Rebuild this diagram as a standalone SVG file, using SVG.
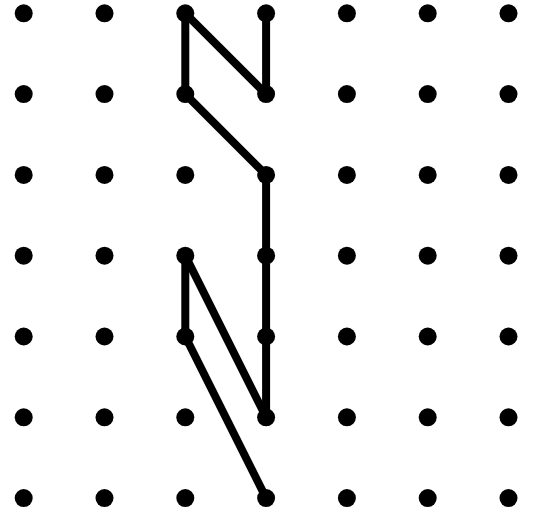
<svg xmlns="http://www.w3.org/2000/svg" width="533" height="515" viewBox="0 0 533 515">
<style>
.d{fill:#000}
.e{stroke:#000;stroke-width:8;fill:none;stroke-linecap:round}
</style>
<rect width="533" height="515" fill="#fff"/>
<g id="connectors" class="e">
<line x1="185.3" y1="13.3" x2="185.3" y2="94.1"/>
<line x1="185.3" y1="13.3" x2="266.1" y2="94.1"/>
<line x1="266.1" y1="13.3" x2="266.1" y2="94.1"/>
<line x1="185.3" y1="94.1" x2="266.1" y2="174.9"/>
<line x1="266.1" y1="174.9" x2="266.1" y2="417.3"/>
<line x1="185.3" y1="255.7" x2="185.3" y2="336.5"/>
<line x1="185.3" y1="255.7" x2="266.1" y2="417.3"/>
<line x1="185.3" y1="336.5" x2="266.1" y2="498.1"/>
</g>
<g id="dots" class="d">
<g id="r0"><circle cx="23.7" cy="13.3" r="9"/><circle cx="104.5" cy="13.3" r="9"/><circle cx="185.3" cy="13.3" r="9"/><circle cx="266.1" cy="13.3" r="9"/><circle cx="346.9" cy="13.3" r="9"/><circle cx="427.7" cy="13.3" r="9"/><circle cx="508.5" cy="13.3" r="9"/></g>
<g id="r1"><circle cx="23.7" cy="94.1" r="9"/><circle cx="104.5" cy="94.1" r="9"/><circle cx="185.3" cy="94.1" r="9"/><circle cx="266.1" cy="94.1" r="9"/><circle cx="346.9" cy="94.1" r="9"/><circle cx="427.7" cy="94.1" r="9"/><circle cx="508.5" cy="94.1" r="9"/></g>
<g id="r2"><circle cx="23.7" cy="174.9" r="9"/><circle cx="104.5" cy="174.9" r="9"/><circle cx="185.3" cy="174.9" r="9"/><circle cx="266.1" cy="174.9" r="9"/><circle cx="346.9" cy="174.9" r="9"/><circle cx="427.7" cy="174.9" r="9"/><circle cx="508.5" cy="174.9" r="9"/></g>
<g id="r3"><circle cx="23.7" cy="255.7" r="9"/><circle cx="104.5" cy="255.7" r="9"/><circle cx="185.3" cy="255.7" r="9"/><circle cx="266.1" cy="255.7" r="9"/><circle cx="346.9" cy="255.7" r="9"/><circle cx="427.7" cy="255.7" r="9"/><circle cx="508.5" cy="255.7" r="9"/></g>
<g id="r4"><circle cx="23.7" cy="336.5" r="9"/><circle cx="104.5" cy="336.5" r="9"/><circle cx="185.3" cy="336.5" r="9"/><circle cx="266.1" cy="336.5" r="9"/><circle cx="346.9" cy="336.5" r="9"/><circle cx="427.7" cy="336.5" r="9"/><circle cx="508.5" cy="336.5" r="9"/></g>
<g id="r5"><circle cx="23.7" cy="417.3" r="9"/><circle cx="104.5" cy="417.3" r="9"/><circle cx="185.3" cy="417.3" r="9"/><circle cx="266.1" cy="417.3" r="9"/><circle cx="346.9" cy="417.3" r="9"/><circle cx="427.7" cy="417.3" r="9"/><circle cx="508.5" cy="417.3" r="9"/></g>
<g id="r6"><circle cx="23.7" cy="498.1" r="9"/><circle cx="104.5" cy="498.1" r="9"/><circle cx="185.3" cy="498.1" r="9"/><circle cx="266.1" cy="498.1" r="9"/><circle cx="346.9" cy="498.1" r="9"/><circle cx="427.7" cy="498.1" r="9"/><circle cx="508.5" cy="498.1" r="9"/></g>
</g>
</svg>
